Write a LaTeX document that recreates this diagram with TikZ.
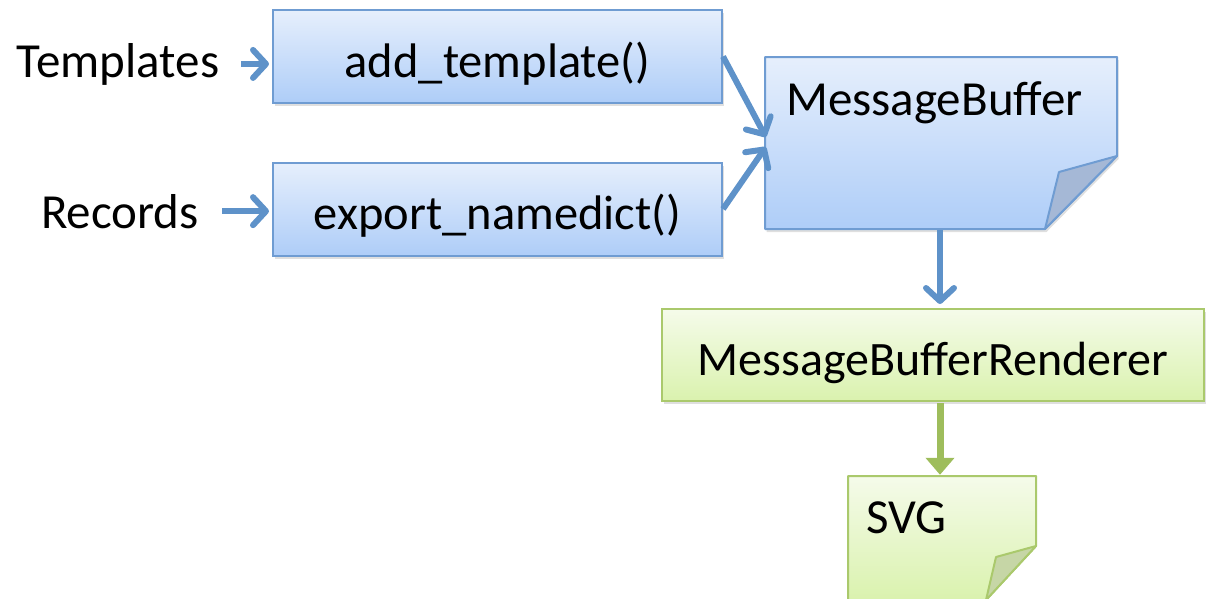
\documentclass[tikz,border=0pt]{standalone}
\usepackage{fontspec}
\setmainfont{Carlito}
\usetikzlibrary{arrows.meta,shadows,calc}
\definecolor{bfill1}{HTML}{E6EFFC}
\definecolor{bfill2}{HTML}{AECDF8}
\definecolor{bline}{HTML}{6F9CD2}
\definecolor{barrow}{HTML}{5E92C9}
\definecolor{bfold}{HTML}{A5B8D6}
\definecolor{gfill1}{HTML}{F5FBEA}
\definecolor{gfill2}{HTML}{DAF2AE}
\definecolor{gline}{HTML}{AAC96C}
\definecolor{garrow}{HTML}{9EBD5C}
\definecolor{gfold}{HTML}{C6D6A6}
\tikzset{
  x=1pt, y=-1pt,
  lbl/.style={font=\fontsize{49}{58}\selectfont, inner sep=0pt},
  bluebox/.style={draw=bline, line width=2pt, top color=bfill1, bottom color=bfill2,
    minimum width=449pt, minimum height=93pt, inner sep=0pt,
    text height=41pt, text depth=0pt,
    font=\fontsize{48.5}{58}\selectfont,
    drop shadow={shadow xshift=1.5pt, shadow yshift=-3pt, opacity=0.25}},
  greenbox/.style={draw=gline, line width=2pt, top color=gfill1, bottom color=gfill2,
    inner sep=0pt, text height=41pt, text depth=0pt,
    font=\fontsize{48}{58}\selectfont,
    drop shadow={shadow xshift=1.5pt, shadow yshift=-3pt, opacity=0.25}},
  barr/.style={draw=barrow, line width=6pt,
    -{Straight Barb[length=13pt,width=28pt,line width=6pt,round]}},
  garr/.style={draw=garrow, line width=7pt, -{Triangle[length=17pt,width=28pt]}},
}
\begin{document}
\begin{tikzpicture}
\useasboundingbox (0,0) rectangle (1207,598);
% input labels
\node[lbl, anchor=base] (tmpl) at (118,77) {Templates};
\node[lbl, anchor=base] (rec) at (120,228) {Records};
% method boxes
\node[bluebox] (add) at (497.5,56.5) {add\_template()};
\node[bluebox] (exp) at (497.5,209) {export\_namedict()};
% MessageBuffer document
\coordinate (mbnw) at (765,57);
\coordinate (mbne) at (1117,57);
\coordinate (mbf1) at (1117,156);
\coordinate (mbf2) at (1045,229);
\coordinate (mbfi) at (1059,172);
\coordinate (mbsw) at (765,229);
\path[fill=gray, opacity=0.25] ($(mbnw)+(1.5,3)$) -- ($(mbne)+(1.5,3)$) -- ($(mbf1)+(1.5,3)$) -- ($(mbf2)+(1.5,3)$) -- ($(mbsw)+(1.5,3)$) -- cycle;
\path[draw=bline, line width=2pt, line join=round, top color=bfill1, bottom color=bfill2]
  (mbnw) -- (mbne) -- (mbf1) -- (mbf2) -- (mbsw) -- cycle;
\path[draw=bline, line width=2pt, line join=round, fill=bfold] (mbf1) -- (mbfi) -- (mbf2) -- cycle;
\node[inner sep=0pt, minimum width=352pt, minimum height=172pt] (mb) at (941,143) {};
\node[lbl, anchor=base west] (mbtext) at (786,115) {MessageBuffer};
% Renderer box
\node[greenbox, minimum width=542pt, minimum height=92pt] (mbr) at (933,355)
  {MessageBufferRenderer};
% SVG document
\coordinate (svnw) at (848,476);
\coordinate (svne) at (1036,476);
\coordinate (svf1) at (1036,546);
\coordinate (svf2) at (986,600);
\coordinate (svfi) at (996,557);
\coordinate (svsw) at (848,600);
\path[draw=gline, line width=2pt, line join=round, top color=gfill1, bottom color=gfill2]
  (svnw) -- (svne) -- (svf1) -- (svf2) -- (svsw) -- cycle;
\path[draw=gline, line width=2pt, line join=round, fill=gfold] (svf1) -- (svfi) -- (svf2) -- cycle;
\node[inner sep=0pt, minimum width=188pt, minimum height=124pt] (svg) at (942,538) {};
\node[lbl, anchor=base west] (svgtext) at (866,533) {SVG};
% connectors
\draw[barr] ($(tmpl.east)+(22,0)$) -- ($(tmpl.east -| add.west)+(-3,0)$);
\draw[barr] ($(rec.east)+(23,0)$) -- ($(rec.east -| exp.west)+(-3,0)$);
\draw[barr] (add.east) -- ($(mb.west)+(1,-6)$);
\draw[barr] (exp.east) -- ($(mb.west)+(1,4)$);
\draw[barr] ($(mb.south)+(-1,1)$) -- ($(mbr.north)+(7,-4)$);
\draw[garr] ($(mbr.south)+(7,1)$) -- ($(svg.north)+(-2,-1)$);
\end{tikzpicture}
\end{document}
